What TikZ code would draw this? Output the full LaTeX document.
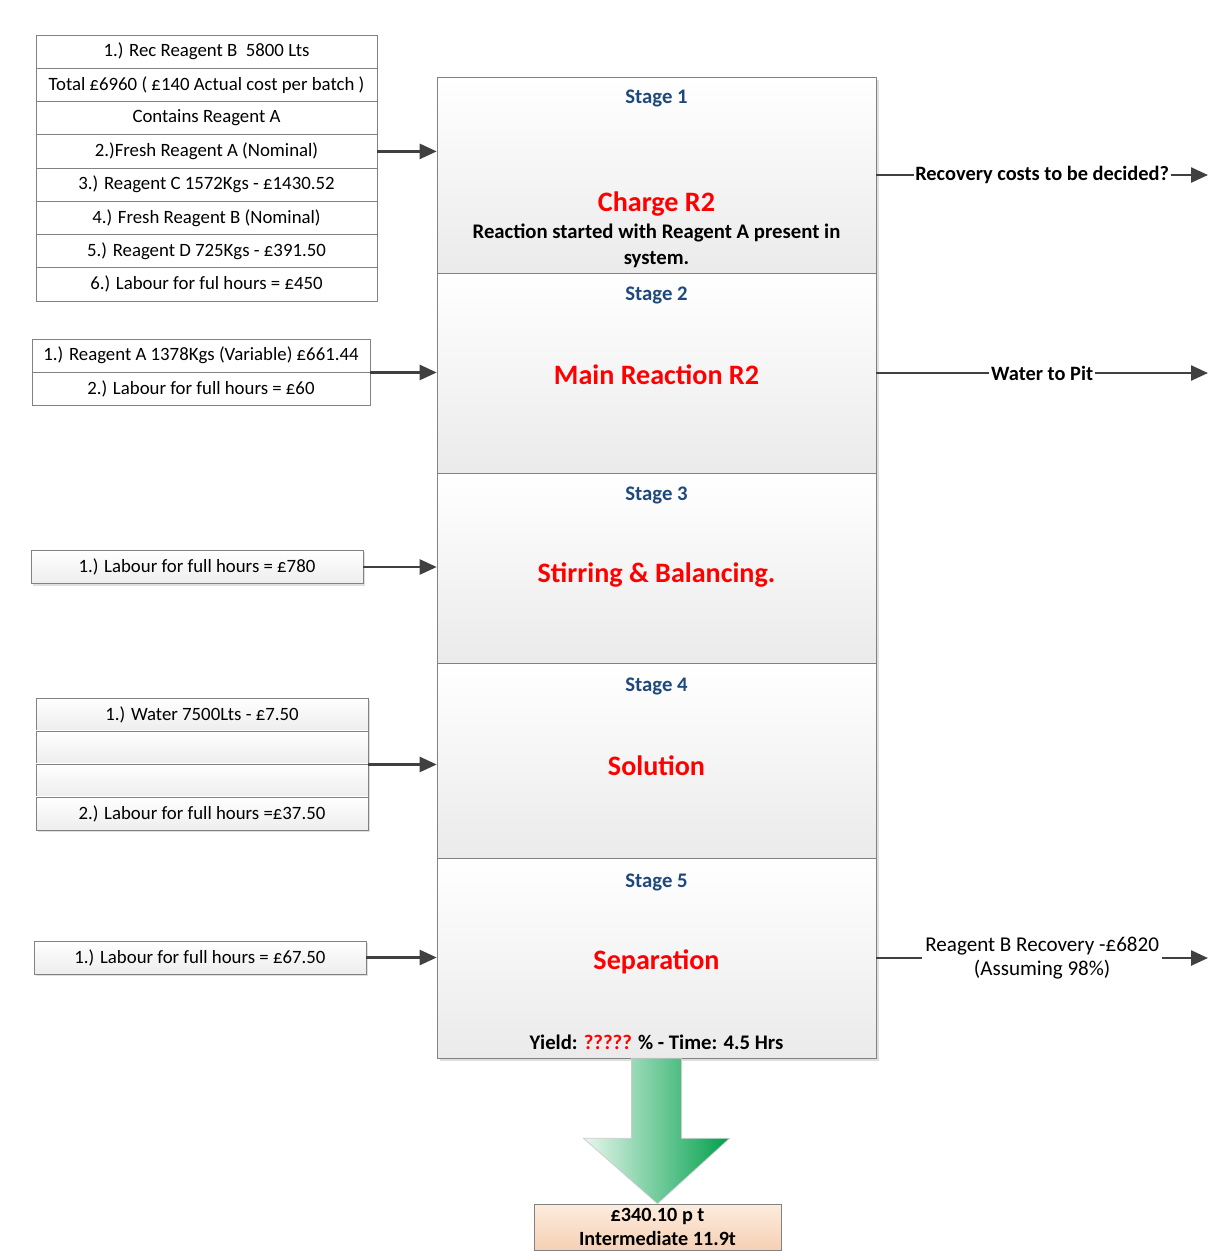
\documentclass[tikz,border=0pt]{standalone}
\usepackage{fontspec}
\setmainfont{Carlito}
\usetikzlibrary{arrows.meta, shadows, calc, positioning}

\definecolor{stageblue}{RGB}{31,73,125}
\definecolor{arrowgrey}{RGB}{64,64,64}
\definecolor{boxgrey}{RGB}{130,130,130}
\definecolor{peachtop}{RGB}{253,236,222}
\definecolor{peachbot}{RGB}{246,208,180}
\definecolor{greenlight}{RGB}{232,247,238}
\definecolor{greendark}{RGB}{0,160,75}

\begin{document}
\begin{tikzpicture}[x=0.02cm, y=-0.02cm,
	cell/.style={draw=boxgrey, minimum height=0.665cm, inner sep=0pt,
		font=\fontsize{10.7}{12}\selectfont},
	shadecell/.style={cell, top color=white, bottom color=black!7,
		drop shadow={opacity=0.25, shadow xshift=1.2pt, shadow yshift=-1.2pt}},
	stage/.style={draw=boxgrey, minimum width=8.78cm, inner sep=0pt,
		top color=white, bottom color=black!8,
		drop shadow={opacity=0.25, shadow xshift=1.5pt, shadow yshift=-1.5pt}},
	stagelbl/.style={text=stageblue, font=\bfseries\fontsize{11.8}{14}\selectfont},
	stagettl/.style={text=red, font=\bfseries\fontsize{16}{19}\selectfont},
	stagenote/.style={align=center, font=\bfseries\fontsize{11.8}{14.7}\selectfont},
	outlbl/.style={fill=white, inner sep=1pt, font=\bfseries\fontsize{11.6}{14}\selectfont},
	feed/.style={draw=arrowgrey, line width=1.4pt, -{Triangle[length=0.34cm,width=0.3cm]}},
	]
	\useasboundingbox (0,0) rectangle (1210,1252);

	% inputs of stage 1
	\node[cell, minimum width=6.82cm] (a1) at (206.5,51.6) {1.) Rec Reagent B~~5800 Lts};
	\node[cell, minimum width=6.82cm] (a2) at (206.5,84.9) {Total £6960 ( £140 Actual cost per batch )};
	\node[cell, minimum width=6.82cm] (a3) at (206.5,118.1) {Contains Reagent A};
	\node[cell, minimum width=6.82cm] (a4) at (206.5,151.4) {2.)Fresh Reagent A (Nominal)};
	\node[cell, minimum width=6.82cm] (a5) at (206.5,184.6) {3.) Reagent C 1572Kgs - £1430.52};
	\node[cell, minimum width=6.82cm] (a6) at (206.5,217.9) {4.) Fresh Reagent B (Nominal)};
	\node[cell, minimum width=6.82cm] (a7) at (206.5,251.1) {5.) Reagent D 725Kgs - £391.50};
	\node[cell, minimum width=6.82cm] (a8) at (206.5,284.4) {6.) Labour for ful hours = £450};

	% inputs of stage 2
	\node[cell, minimum width=6.76cm] (b1) at (201,355.5) {1.) Reagent A 1378Kgs (Variable) £661.44};
	\node[cell, minimum width=6.76cm] (b2) at (201,388.5) {2.) Labour for full hours = £60};

	% inputs of stage 3, 4, 5
	\node[shadecell, minimum width=6.64cm] (c1) at (197,567) {1.) Labour for full hours = £780};

	\node[shadecell, minimum width=6.64cm] (d1) at (202,714.5) {1.) Water 7500Lts - £7.50};
	\node[shadecell, minimum width=6.64cm] (d2) at (202,747.5) {};
	\node[shadecell, minimum width=6.64cm] (d3) at (202,780.5) {};
	\node[shadecell, minimum width=6.64cm] (d4) at (202,813.5) {2.) Labour for full hours =£37.50};

	\node[shadecell, minimum width=6.64cm] (e1) at (200,957.5) {1.) Labour for full hours = £67.50};

	% stages
	\node[stage, minimum height=3.92cm] (s1) at (656.5,175) {};
	\node[stage, minimum height=4cm] (s2) at (656.5,373) {};
	\node[stage, minimum height=3.8cm] (s3) at (656.5,568) {};
	\node[stage, minimum height=3.9cm] (s4) at (656.5,760.5) {};
	\node[stage, minimum height=4cm] (s5) at (656.5,958) {};

	\node[stagelbl] (s1lbl) at (656.5,98) {Stage 1};
	\node[stagelbl] (s2lbl) at (656.5,295) {Stage 2};
	\node[stagelbl] (s3lbl) at (656.5,495) {Stage 3};
	\node[stagelbl] (s4lbl) at (656.5,686) {Stage 4};
	\node[stagelbl] (s5lbl) at (656.5,882) {Stage 5};

	\node[stagettl] (s1ttl) at (656.5,204) {Charge R2};
	\node[stagenote] (s1note) at (656.5,246) {Reaction started with Reagent A present in\\system.};
	\node[stagettl] (s2ttl) at (656.5,375) {Main Reaction R2};
	\node[stagettl] (s3ttl) at (656.5,575) {Stirring \& Balancing.};
	\node[stagettl] (s4ttl) at (656.5,766) {Solution};
	\node[stagettl] (s5ttl) at (656.5,962) {Separation};
	\node[stagenote] (s5yld) at (656.5,1042) {Yield: \textcolor{red}{?????} \% - Time: 4.5 Hrs};

	% feeds into the stages
	\draw[feed] (a4.east) -- (a4.east -| s1.west);
	\draw[feed] (b1.south east) -- (b1.south east -| s2.west);
	\draw[feed] (c1.east) -- (c1.east -| s3.west);
	\draw[feed] (d2.south east) -- (d2.south east -| s4.west);
	\draw[feed] (e1.east) -- (e1.east -| s5.west);

	% outputs
	\coordinate (o1) at (1208,175);
	\coordinate (o2) at (1208,373);
	\coordinate (o3) at (1208,958);
	\draw[feed] (s1.east) -- (o1) node[midway, outlbl] {Recovery costs to be decided?};
	\draw[feed] (s2.east) -- (o2) node[midway, outlbl] {Water to Pit};
	\draw[feed] (s5.east) -- (o3) node[midway, outlbl, align=center, inner xsep=2pt,
		font=\fontsize{12}{14}\selectfont] {Reagent B Recovery -£6820\\(Assuming 98\%)};

	% product
	\node[draw=boxgrey, top color=peachtop, bottom color=peachbot, minimum width=4.94cm,
		minimum height=0.92cm, inner sep=0pt, align=center,
		font=\bfseries\fontsize{11.5}{13.6}\selectfont] (out) at (657.5,1227) {£340.10 p t\\Intermediate 11.9t};
	\path[draw=black!20, left color=greenlight, right color=greendark]
		($(s5.south)+(-25,0)$) -- ($(s5.south)+(25,0)$) -- ($(s5.south)+(25,80)$)
		-- ($(s5.south)+(73,80)$) -- (out.north) -- ($(s5.south)+(-73,80)$)
		-- ($(s5.south)+(-25,80)$) -- cycle;
\end{tikzpicture}
\end{document}
